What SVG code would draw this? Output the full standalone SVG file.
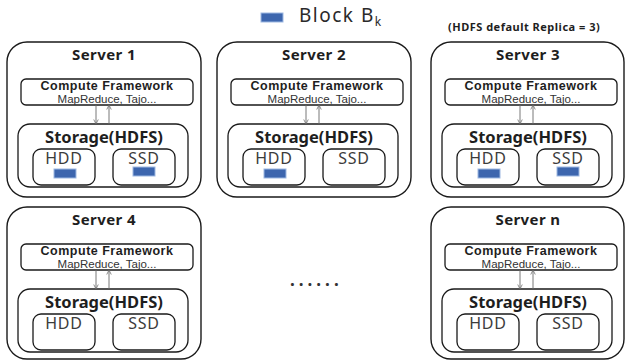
<svg xmlns="http://www.w3.org/2000/svg" width="627" height="362" viewBox="0 0 627 362">
  <style>
    .outer { fill: #ffffff; stroke: #1a1a1a; stroke-width: 1.4; }
    .frame { fill: #ffffff; stroke: #1a1a1a; stroke-width: 1.3; }
    .title { font-family: "Noto Sans", "Liberation Sans", sans-serif; font-weight: bold; font-size: 15px; fill: #1e1e1e; text-anchor: middle; letter-spacing: 0.4px; }
    .cf { font-family: "Liberation Sans", "Noto Sans", sans-serif; font-weight: bold; font-size: 12.5px; fill: #1e1e1e; text-anchor: middle; letter-spacing: 0.5px; }
    .cfsub { font-family: "Liberation Sans", "Noto Sans", sans-serif; font-size: 11.5px; fill: #333333; text-anchor: middle; }
    .st { font-family: "Noto Sans", "Liberation Sans", sans-serif; font-weight: bold; font-size: 16.5px; fill: #1e1e1e; text-anchor: middle; }
    .dev { font-family: "Noto Sans", "Liberation Sans", sans-serif; font-size: 16px; fill: #3c3c3c; text-anchor: middle; letter-spacing: 0.8px; }
    .blk { fill: #3d66ae; stroke: #9db8e2; stroke-width: 1; }
    .flow { stroke: #6a6a6a; stroke-width: 0.9; fill: none; marker-end: url(#tip); }
    .legend { font-family: "Noto Sans", "Liberation Sans", sans-serif; font-size: 19px; fill: #2a2a2a; letter-spacing: 1.5px; }
    .note { font-family: "Noto Sans", "Liberation Sans", sans-serif; font-weight: bold; font-size: 11px; fill: #1e1e1e; letter-spacing: 0.5px; }
  </style>
  <defs>
    <marker id="tip" viewBox="0 0 8 8" refX="7" refY="4" markerWidth="6" markerHeight="6" orient="auto" markerUnits="userSpaceOnUse">
      <path d="M1,1 L7,4 L1,7" fill="none" stroke="#6a6a6a" stroke-width="1"/>
    </marker>
  </defs>

  <rect width="627" height="362" fill="#ffffff"/>

  <!-- legend -->
  <g id="legend">
    <rect class="blk" x="261" y="13" width="22" height="9"/>
    <text class="legend" x="299" y="22">Block B<tspan font-size="12" dy="4" letter-spacing="0">k</tspan></text>
    <text class="note" x="448" y="31">(HDFS default Replica = 3)</text>
  </g>

  <!-- Server 1 -->
  <g id="server1" transform="translate(7,42)">
    <rect class="outer" x="0" y="0" width="194" height="155" rx="20"/>
    <text class="title" x="97" y="18">Server 1</text>
    <rect class="frame" x="14" y="37" width="172" height="26" rx="5"/>
    <text class="cf" x="100" y="47.5">Compute Framework</text>
    <text class="cfsub" x="100" y="61">MapReduce, Tajo...</text>
    <rect class="frame" x="11" y="82" width="170" height="63" rx="12"/>
    <text class="st" x="97" y="101">Storage(HDFS)</text>
    <rect class="frame" x="26" y="107" width="62" height="36" rx="8"/>
    <text class="dev" x="57" y="122">HDD</text>
    <rect class="blk" x="47" y="127" width="22" height="9"/>
    <rect class="frame" x="106" y="107" width="62" height="36" rx="8"/>
    <text class="dev" x="137" y="122">SSD</text>
    <rect class="blk" x="126" y="125" width="22" height="9"/>
  </g>

  <!-- Server 2 -->
  <g id="server2" transform="translate(217,42)">
    <rect class="outer" x="0" y="0" width="194" height="155" rx="20"/>
    <text class="title" x="97" y="18">Server 2</text>
    <rect class="frame" x="14" y="37" width="172" height="26" rx="5"/>
    <text class="cf" x="100" y="47.5">Compute Framework</text>
    <text class="cfsub" x="100" y="61">MapReduce, Tajo...</text>
    <rect class="frame" x="11" y="82" width="170" height="63" rx="12"/>
    <text class="st" x="97" y="101">Storage(HDFS)</text>
    <rect class="frame" x="26" y="107" width="62" height="36" rx="8"/>
    <text class="dev" x="57" y="122">HDD</text>
    <rect class="blk" x="47" y="127" width="22" height="9"/>
    <rect class="frame" x="106" y="107" width="62" height="36" rx="8"/>
    <text class="dev" x="137" y="122">SSD</text>
  </g>

  <!-- Server 3 -->
  <g id="server3" transform="translate(431,42)">
    <rect class="outer" x="0" y="0" width="193" height="155" rx="20"/>
    <text class="title" x="97" y="18">Server 3</text>
    <rect class="frame" x="14" y="37" width="172" height="26" rx="5"/>
    <text class="cf" x="100" y="47.5">Compute Framework</text>
    <text class="cfsub" x="100" y="61">MapReduce, Tajo...</text>
    <rect class="frame" x="11" y="82" width="170" height="63" rx="12"/>
    <text class="st" x="97" y="101">Storage(HDFS)</text>
    <rect class="frame" x="26" y="107" width="62" height="36" rx="8"/>
    <text class="dev" x="57" y="122">HDD</text>
    <rect class="blk" x="47" y="127" width="22" height="9"/>
    <rect class="frame" x="106" y="107" width="62" height="36" rx="8"/>
    <text class="dev" x="137" y="122">SSD</text>
    <rect class="blk" x="126" y="125" width="22" height="9"/>
  </g>

  <!-- Server 4 -->
  <g id="server4" transform="translate(7,207)">
    <rect class="outer" x="0" y="0" width="194" height="152" rx="20"/>
    <text class="title" x="97" y="18">Server 4</text>
    <rect class="frame" x="14" y="37" width="172" height="26" rx="5"/>
    <text class="cf" x="100" y="47.5">Compute Framework</text>
    <text class="cfsub" x="100" y="61">MapReduce, Tajo...</text>
    <rect class="frame" x="11" y="82" width="170" height="63" rx="12"/>
    <text class="st" x="97" y="101">Storage(HDFS)</text>
    <rect class="frame" x="26" y="107" width="62" height="36" rx="8"/>
    <text class="dev" x="57" y="122">HDD</text>
    <rect class="frame" x="106" y="107" width="62" height="36" rx="8"/>
    <text class="dev" x="137" y="122">SSD</text>
  </g>

  <!-- Server n -->
  <g id="servern" transform="translate(431,207)">
    <rect class="outer" x="0" y="0" width="193" height="152" rx="20"/>
    <text class="title" x="97" y="18">Server n</text>
    <rect class="frame" x="14" y="37" width="172" height="26" rx="5"/>
    <text class="cf" x="100" y="47.5">Compute Framework</text>
    <text class="cfsub" x="100" y="61">MapReduce, Tajo...</text>
    <rect class="frame" x="11" y="82" width="170" height="63" rx="12"/>
    <text class="st" x="97" y="101">Storage(HDFS)</text>
    <rect class="frame" x="26" y="107" width="62" height="36" rx="8"/>
    <text class="dev" x="57" y="122">HDD</text>
    <rect class="frame" x="106" y="107" width="62" height="36" rx="8"/>
    <text class="dev" x="137" y="122">SSD</text>
  </g>

  <!-- ellipsis between Server 4 and Server n -->
  <g id="ellipsis">
    <text x="290" y="286" font-family="Noto Sans, Liberation Sans, sans-serif" font-weight="bold" font-size="17" fill="#333333" letter-spacing="4">......</text>
  </g>

  <!-- compute/storage links -->
  <g id="connectors">
    <line class="flow" x1="96" y1="105" x2="96" y2="124"/>
    <line class="flow" x1="109" y1="124" x2="109" y2="105"/>
    <line class="flow" x1="306" y1="105" x2="306" y2="124"/>
    <line class="flow" x1="319" y1="124" x2="319" y2="105"/>
    <line class="flow" x1="520" y1="105" x2="520" y2="124"/>
    <line class="flow" x1="533" y1="124" x2="533" y2="105"/>
    <line class="flow" x1="96" y1="270" x2="96" y2="289"/>
    <line class="flow" x1="109" y1="289" x2="109" y2="270"/>
    <line class="flow" x1="520" y1="270" x2="520" y2="289"/>
    <line class="flow" x1="533" y1="289" x2="533" y2="270"/>
  </g>
</svg>
